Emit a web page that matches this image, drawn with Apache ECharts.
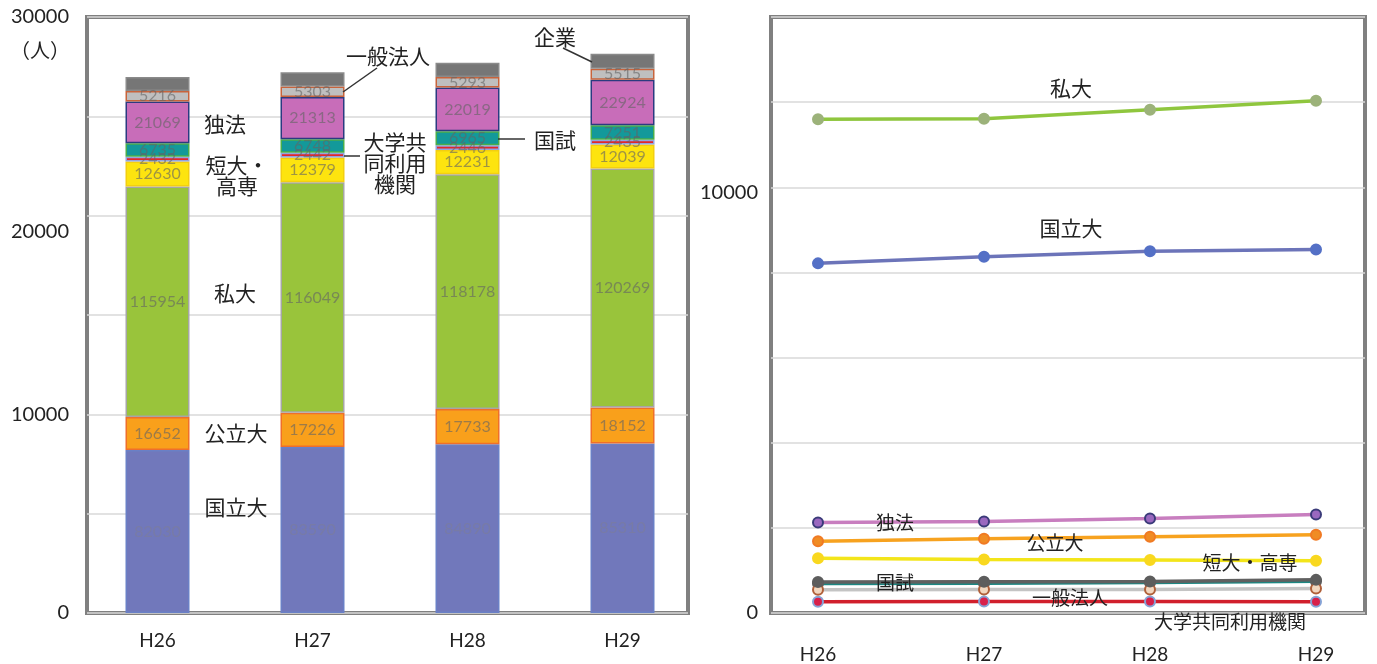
<!DOCTYPE html>
<html>
<head>
<meta charset="utf-8">
<script src="https://cdn.jsdelivr.net/npm/echarts@6/dist/echarts.min.js"></script>
<style>
  html, body { margin: 0; padding: 0; background: #fff; }
  #chart { width: 1377px; height: 664px; }
</style>
</head>
<body>
<div id="chart"></div>
<script>
// 年度
const years = ['H26', 'H27', 'H28', 'H29'];

// 機関種別ごとの人数
const kokuritsuDai = [82030, 83590, 84890, 85310];   // 国立大
const kouritsuDai  = [16652, 17226, 17733, 18152];   // 公立大
const shiDai       = [115954, 116049, 118178, 120269]; // 私大
const tanDaiKosen  = [12630, 12379, 12231, 12039];   // 短大・高専
const kyodoRiyo    = [2432, 2442, 2446, 2435];       // 大学共同利用機関
const kokushi      = [6735, 6748, 6965, 7251];       // 国試
const dokuho       = [21069, 21313, 22019, 22924];   // 独法
const ippanHojin   = [5216, 5303, 5293, 5515];       // 一般法人
const kigyo        = [7080, 7130, 7190, 7560];       // 企業

// 目盛ラベル（表示用）
const leftTickLabels  = { 0: '0', 100000: '10000', 200000: '20000', 300000: '30000' };
const rightTickLabels = { 0: '0', 100000: '10000' };

const NUM_FONT = 'Lato, "Open Sans", sans-serif';
const JP_FONT = '"Noto Sans CJK JP", sans-serif';
const FRAME = '#808080';
const GRIDLINE = '#d9d9d9';

const groups = [
  { name: '国立大', data: kokuritsuDai, fill: '#7178bb', edge: '#6a80c6', line: '#6c74b9', mark: '#5470c6', markEdge: '#5470c6', text: 'rgba(125,125,150,0.55)' },
  { name: '公立大', data: kouritsuDai, fill: '#f9a01b', edge: '#ef6f2a', line: '#f7a21f', mark: '#f08c24', markEdge: '#f07a24' },
  { name: '私大', data: shiDai, fill: '#99c43b', edge: '#a6a6a6', line: '#8fc63e', mark: '#9cb27a', markEdge: '#9cb27a' },
  { name: '短大・高専', data: tanDaiKosen, fill: '#fde40f', edge: '#f3cf10', line: '#f3e51a', mark: '#f9d81f', markEdge: '#f9d81f' },
  { name: '大学共同利用機関', data: kyodoRiyo, fill: '#e3262b', edge: '#92a4e0', line: '#d11f2c', mark: '#d8204a', markEdge: '#86a3d6' },
  { name: '国試', data: kokushi, fill: '#13999a', edge: '#4aae4a', line: '#1c8782', mark: '#5d5d5d', markEdge: '#5d5d5d' },
  { name: '独法', data: dokuho, fill: '#c86db9', edge: '#2b3b80', line: '#c87ebf', mark: '#9a68bf', markEdge: '#3b3b7a' },
  { name: '一般法人', data: ippanHojin, fill: '#bfbfbf', edge: '#c8643c', line: '#c4c4c4', mark: '#f2d7bf', markEdge: '#b0603a' },
  { name: '企業', data: kigyo, fill: '#767676', edge: '#8a8a8a', line: '#606060', mark: '#5d5d5d', markEdge: '#5d5d5d' }
];

const barSeries = groups.map(function (g) {
  return {
    name: g.name,
    type: 'bar',
    xAxisIndex: 1,
    yAxisIndex: 1,
    stack: 'total',
    barWidth: 64,
    data: g.data,
    itemStyle: { color: g.fill, borderColor: g.edge, borderWidth: 1.5 },
    label: {
      show: g.name !== '企業',
      position: 'inside',
      fontFamily: NUM_FONT,
      fontSize: 16,
      color: g.text || 'rgba(100,100,100,0.62)'
    },
    emphasis: { disabled: true },
    animation: false
  };
});

const lineSeries = groups.map(function (g) {
  return {
    name: g.name,
    type: 'line',
    xAxisIndex: 3,
    yAxisIndex: 3,
    data: g.data,
    symbol: 'circle',
    symbolSize: 10,
    lineStyle: { color: g.line, width: 3.5 },
    itemStyle: { color: g.mark, borderColor: g.markEdge, borderWidth: 2 },
    emphasis: { disabled: true },
    animation: false
  };
});

function jpText(x, y, text, size) {
  return {
    type: 'text', x: x, y: y, z: 50,
    style: {
      text: text, fill: '#222', font: (size || 21) + 'px ' + JP_FONT,
      align: 'center', verticalAlign: 'middle', lineHeight: 21
    }
  };
}
function leader(x1, y1, x2, y2) {
  return {
    type: 'line', z: 50,
    shape: { x1: x1, y1: y1, x2: x2, y2: y2 },
    style: { stroke: '#333', lineWidth: 1.5 }
  };
}

const option = {
  backgroundColor: '#fff',
  animation: false,
  grid: [
    { left: 87, top: 17, width: 601, height: 596, show: true, borderColor: FRAME, borderWidth: 4, backgroundColor: 'transparent' },
    { left: 80, top: 17, width: 620, height: 596 },
    { left: 771, top: 17, width: 594, height: 596, show: true, borderColor: FRAME, borderWidth: 4, backgroundColor: 'transparent' },
    { left: 818, top: 17, width: 498, height: 596 }
  ],
  xAxis: [
    { gridIndex: 0, type: 'category', data: years, show: false },
    {
      gridIndex: 1, type: 'category', data: years,
      axisLine: { show: false }, axisTick: { show: false },
      axisLabel: { margin: 18, fontFamily: NUM_FONT, fontSize: 19, color: '#222' }
    },
    { gridIndex: 2, type: 'category', data: years, show: false },
    {
      gridIndex: 3, type: 'category', data: years, boundaryGap: false,
      axisLine: { show: false }, axisTick: { show: false },
      axisLabel: { margin: 33, fontFamily: NUM_FONT, fontSize: 19, color: '#222' }
    }
  ],
  yAxis: [
    {
      gridIndex: 0, type: 'value', min: 0, max: 300000, interval: 50000,
      axisLine: { show: false }, axisTick: { show: false },
      splitLine: { lineStyle: { color: GRIDLINE, width: 1.5 } },
      axisLabel: {
        margin: 18, fontFamily: NUM_FONT, fontSize: 20, color: '#222',
        formatter: function (v) {
          if (v === 200000) return '{low|' + leftTickLabels[v] + '}';
          return leftTickLabels[v] !== undefined ? leftTickLabels[v] : '';
        },
        rich: { low: { padding: [32, 0, 0, 0], fontFamily: NUM_FONT, fontSize: 20, color: '#222' } }
      }
    },
    { gridIndex: 1, type: 'value', min: 0, max: 300000, show: false, splitLine: { show: false } },
    {
      gridIndex: 2, type: 'value', min: 0, max: 140000, interval: 20000,
      axisLine: { show: false }, axisTick: { show: false },
      splitLine: { lineStyle: { color: GRIDLINE, width: 1.5 } },
      axisLabel: {
        margin: 13, fontFamily: NUM_FONT, fontSize: 20, color: '#222',
        formatter: function (v) {
          if (v === 100000) return '{low|' + rightTickLabels[v] + '}';
          return rightTickLabels[v] !== undefined ? rightTickLabels[v] : '';
        },
        rich: { low: { padding: [10, 0, 0, 0], fontFamily: NUM_FONT, fontSize: 20, color: '#222' } }
      }
    },
    { gridIndex: 3, type: 'value', min: 0, max: 140000, show: false, splitLine: { show: false } }
  ],
  series: barSeries.concat(lineSeries),
  graphic: [
    { type: 'text', x: 40, y: 50, style: { text: '（人）', fill: '#222', font: '20px ' + JP_FONT, align: 'center', verticalAlign: 'middle' } },

    // 積み上げ棒の凡例ラベル
    jpText(225, 124, '独法'),
    jpText(237, 176, '短大・\n高専'),
    jpText(235, 293, '私大'),
    jpText(236, 433, '公立大'),
    jpText(236, 507, '国立大'),
    jpText(388, 56, '一般法人'),
    leader(377, 68, 343, 92),
    jpText(395, 163, '大学共\n同利用\n機関'),
    leader(344, 156, 360, 156),
    jpText(555, 140, '国試'),
    leader(498, 139, 525, 139),
    jpText(555, 37, '企業'),
    leader(563, 48, 592, 62),

    // 折れ線の系列ラベル
    jpText(1071, 88, '私大'),
    jpText(1071, 228, '国立大'),
    jpText(895, 523, '独法', 19),
    jpText(1055, 543, '公立大', 19),
    jpText(1250, 563, '短大・高専', 19),
    jpText(895, 583, '国試', 19),
    jpText(1070, 598, '一般法人', 19),
    jpText(1230, 622, '大学共同利用機関', 19)
  ]
};

const chart = echarts.init(document.getElementById('chart'), null, { renderer: 'canvas' });
chart.setOption(option);
</script>
</body>
</html>
